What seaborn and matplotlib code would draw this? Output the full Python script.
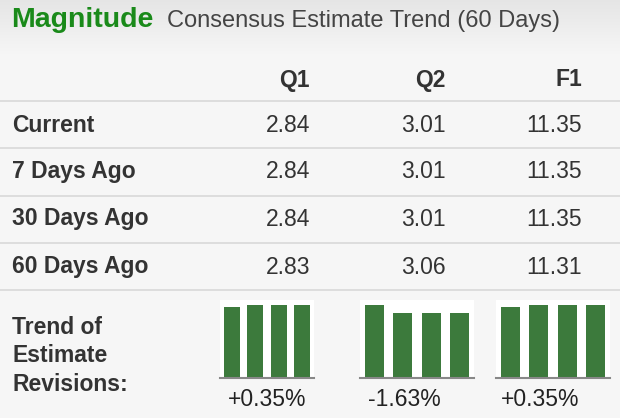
import numpy as np
import pandas as pd
import matplotlib
matplotlib.use("Agg")
import matplotlib.pyplot as plt
import seaborn as sns

# ---------------------------------------------------------------------------
# Data
# ---------------------------------------------------------------------------
columns = ["Q1", "Q2", "F1"]
row_labels = ["Current", "7 Days Ago", "30 Days Ago", "60 Days Ago"]
q1_values = [2.84, 2.84, 2.84, 2.83]
q2_values = [3.01, 3.01, 3.01, 3.06]
f1_values = [11.35, 11.35, 11.35, 11.31]
revisions = ["+0.35%", "-1.63%", "+0.35%"]

W, H = 620, 418
BAR_COLOR = "#3c7a3c"
FONT = "Liberation Sans"
plt.rcParams["font.family"] = FONT
FS = 16.5

fig = plt.figure(figsize=(W / 100, H / 100), dpi=100)
fig.patch.set_facecolor("#f6f6f6")


def fx(x):
    return x / W


def fy(y):
    return 1 - y / H


# title band gradient
bg = fig.add_axes([0, fy(55), 1, 55 / H])
grad = np.linspace(0.9, 0.965, 50).reshape(-1, 1)
bg.imshow(np.dstack([grad, grad, grad]), aspect="auto", extent=[0, 1, 0, 1])
bg.axis("off")
fig.text(fx(11), fy(20), "Magnitude", color="#1a8a1a", fontsize=20.5, fontweight="bold", va="center")
fig.text(fx(167), fy(21), "Consensus Estimate Trend (60 Days)", color="#444444", fontsize=17, va="center")

col_x = [310, 446, 582]
for c, x in zip(columns, col_x):
    fig.text(fx(x), fy(80), c, ha="right", va="center", fontsize=FS, fontweight="bold", color="#333333")

for y in [101, 148, 196, 243, 290]:
    fig.add_artist(plt.Line2D([0, 1], [fy(y), fy(y)], color="#d8d8d8", lw=1.2))

table = pd.DataFrame({"Q1": q1_values, "Q2": q2_values, "F1": f1_values}, index=row_labels)
row_y = [125, 172, 219, 267]
for (label, row), y in zip(table.iterrows(), row_y):
    fig.text(fx(12), fy(y), label, va="center", fontsize=FS, fontweight="bold", color="#333333")
    for c, x in zip(columns, col_x):
        fig.text(fx(x), fy(y), f"{row[c]:.2f}", ha="right", va="center", fontsize=FS, color="#333333")

fig.text(fx(12), fy(356), "Trend of\nEstimate\nRevisions:", va="center", fontsize=FS,
         fontweight="bold", color="#333333", linespacing=1.3)

# small bar charts: oldest -> newest
panels = [(220, 314), (360, 474), (496, 610)]
centers = [267, 404, 540]
for c, (x0, x1), cx, rev in zip(columns, panels, centers, revisions):
    ax = fig.add_axes([fx(x0), fy(378), (x1 - x0) / W, 78 / H])
    vals = table[c].values[::-1]
    d = pd.DataFrame({"t": range(4), "v": vals})
    sns.barplot(data=d, x="t", y="v", color=BAR_COLOR, saturation=1, width=0.66, ax=ax)
    ax.set_ylim(min(vals) * 0.87, max(vals) * 1.01)
    ax.set_facecolor("white")
    ax.set_xticks([])
    ax.set_yticks([])
    ax.set_xlabel("")
    ax.set_ylabel("")
    for s in ["top", "right", "left"]:
        ax.spines[s].set_visible(False)
    ax.spines["bottom"].set_color("#888888")
    ax.spines["bottom"].set_linewidth(1.5)
    fig.text(fx(cx), fy(400), rev, ha="center", va="center", fontsize=FS, color="#222222")

fig.savefig("out.png", dpi=100, facecolor=fig.get_facecolor())
